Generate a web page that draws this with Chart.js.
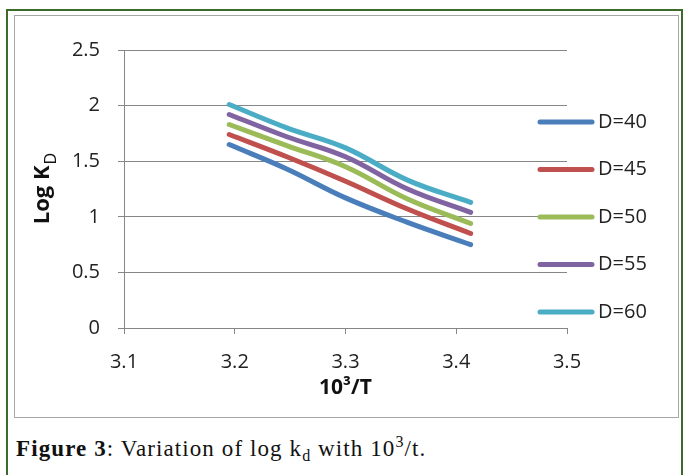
<!DOCTYPE html>
<html>
<head>
<meta charset="utf-8">
<script src="https://cdn.jsdelivr.net/npm/chart.js@4"></script>
<style>
  body { margin: 0; background: #fff; width: 683px; height: 475px; overflow: hidden; position: relative; }
  .frame { position: absolute; left: 6px; top: 9px; width: 673px; height: 480px; border: 2px solid #3d6b2c; border-bottom: none; }
  .box { position: absolute; left: 14px; top: 15px; width: 663px; height: 401px; border: 1px solid #a6a6a6; }
  .caption { position: absolute; left: 16px; top: 433px; font-family: "Liberation Serif", serif; font-size: 23px; letter-spacing: 1.1px; color: #111; white-space: nowrap; }
  .caption b { font-weight: bold; }
</style>
</head>
<body>
<div class="frame"></div>
<div class="box"><canvas id="chart" width="663" height="401"></canvas></div>
<div class="caption"><b>Figure 3</b>: Variation of log k<sub style="font-size:16px">d</sub> with 10<sup style="font-size:16px">3</sup>/t.</div>
<script>
// 10^3/T values
var xValues = [3.195, 3.247, 3.3, 3.356, 3.413];
var seriesNames = ["D=40", "D=45", "D=50", "D=55", "D=60"];
var d40 = [1.65, 1.43, 1.17, 0.95, 0.75];
var d45 = [1.74, 1.54, 1.32, 1.07, 0.85];
var d50 = [1.83, 1.64, 1.45, 1.16, 0.94];
var d55 = [1.92, 1.72, 1.54, 1.25, 1.04];
var d60 = [2.01, 1.8, 1.62, 1.33, 1.13];
var colors = ["#4a7ebb", "#c0504d", "#9bbb59", "#8064a2", "#4bacc6"];

var font = "'Open Sans', sans-serif";

function points(ys) {
  return xValues.map(function (x, i) { return { x: x, y: ys[i] }; });
}

function plainNumber(value) {
  return String(+value.toFixed(2));
}

// legend drawn over the right part of the plot like the excel one
var sideLegend = {
  id: "sideLegend",
  afterDraw: function (chart) {
    var ctx = chart.ctx;
    ctx.save();
    chart.data.datasets.forEach(function (ds, i) {
      var y = 106 + i * 47.5;
      ctx.strokeStyle = ds.borderColor;
      ctx.lineWidth = 5;
      ctx.lineCap = "round";
      ctx.beginPath();
      ctx.moveTo(525, y);
      ctx.lineTo(577, y);
      ctx.stroke();
      ctx.fillStyle = "#222";
      ctx.font = "20px " + font;
      ctx.textBaseline = "middle";
      ctx.textAlign = "left";
      ctx.fillText(ds.label, 583, y);
    });
    ctx.restore();
  },
};

// y title needs a subscript
var yTitle = {
  id: "yTitle",
  afterDraw: function (chart) {
    var ctx = chart.ctx;
    var area = chart.chartArea;
    ctx.save();
    ctx.translate(28, (area.top + area.bottom) / 2);
    ctx.rotate(-Math.PI / 2);
    ctx.fillStyle = "#111";
    ctx.textBaseline = "middle";
    ctx.textAlign = "left";
    ctx.font = "bold 22px " + font;
    var main = "Log K";
    var w1 = ctx.measureText(main).width;
    ctx.font = "16px " + font;
    var w2 = ctx.measureText("D").width;
    var start = -(w1 + w2) / 2;
    ctx.font = "bold 22px " + font;
    ctx.fillText(main, start, 0);
    ctx.font = "16px " + font;
    ctx.fillText("D", start + w1 + 1, 8);
    ctx.restore();
  },
};

new Chart(document.getElementById("chart"), {
  type: "line",
  data: {
    datasets: [d40, d45, d50, d55, d60].map(function (ys, i) {
      return {
        label: seriesNames[i],
        data: points(ys),
        borderColor: colors[i],
        backgroundColor: colors[i],
        borderWidth: 5,
        borderCapStyle: "round",
        pointRadius: 0,
        tension: 0.4,
        fill: false,
      };
    }),
  },
  options: {
    responsive: false,
    animation: false,
    layout: { padding: { top: 34, right: 111, left: 0, bottom: 0 } },
    plugins: { legend: { display: false }, tooltip: { enabled: false } },
    scales: {
      x: {
        type: "linear",
        min: 3.1,
        max: 3.5,
        ticks: { stepSize: 0.1, padding: 16, color: "#222", font: { family: font, size: 20 }, callback: plainNumber },
        grid: { drawOnChartArea: false, drawTicks: true, tickLength: 6, color: "#868686" },
        border: { color: "#868686" },
        title: { display: true, text: "10³/T", color: "#111", font: { family: font, size: 21, weight: "bold" }, padding: { top: 0, bottom: 16 } },
        afterFit: function (s) { s.height = 89; },
      },
      y: {
        min: 0,
        max: 2.5,
        ticks: { stepSize: 0.5, padding: 18, color: "#222", font: { family: font, size: 20 }, callback: plainNumber },
        grid: { tickLength: 6, color: "#868686" },
        border: { color: "#868686" },
        afterFit: function (s) { s.width = 109; },
      },
    },
  },
  plugins: [sideLegend, yTitle],
});
</script>
</body>
</html>
